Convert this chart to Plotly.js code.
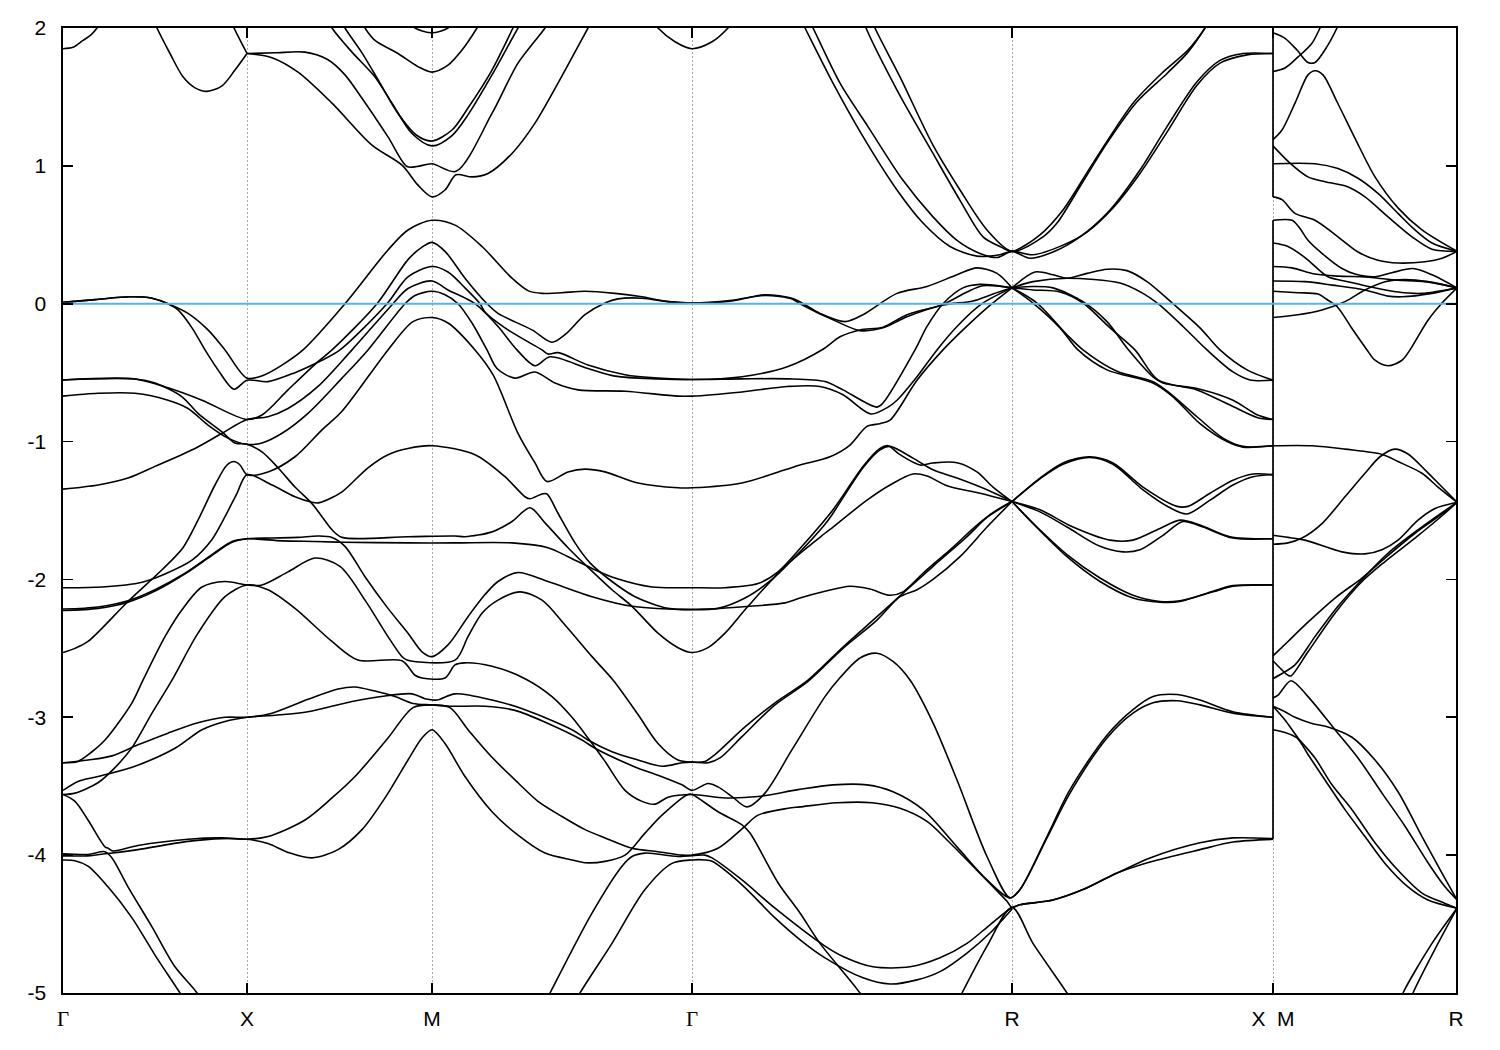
<!DOCTYPE html>
<html><head><meta charset="utf-8">
<script src="https://cdn.plot.ly/plotly-3.0.1.min.js"></script>
<style>html,body{margin:0;padding:0;background:#fff}</style></head>
<body><div id="chart" style="width:1500px;height:1050px"></div>
<script>
// k-path positions of the symmetry points and their labels
const pathTicks=[0,184,369,629,949,1210,1393];
const pathLabels=['Γ','X','M','Γ','R','X\u00A0\u00A0M','R'];
const energyTicks=[-5,-4,-3,-2,-1,0,1,2];
const energyLabels=['-5','-4','-3','-2','-1','0','1','2'];
const fermiK=[0,1393], fermiE=[0,0];
// jump of the path between X and M
const jumpK1=[1210,1210], jumpE1=[2.1,0.775];
const jumpK2=[1210,1210], jumpE2=[0.605,-3.885];

// bands: k = position along path, e = energy (eV)
const k1=[0,32,67,89,105,125,145,162,184,200,219,240,282,325,345,369,392,419,449,465,479,499,522,552,579,605,629,669,702,729,739,757,782,800,834,864,894,914,934,949];
const e1=[.01,.03,.05,.04,0,-.07,-.19,-.335,-.54,-.52,-.445,-.335,0,.39,.535,.605,.57,.415,.185,.095,.075,.08,.09,.075,.05,.015,.005,.02,.065,.04,.005,-.07,-.13,-.08,.075,.125,.21,.26,.22,.115];
const k2=[0,32,67,89,105,115,129,142,155,171,184,205,232,259,277,324,345,369,385,402,417,422,445,479,485,495,525,562,595,629,679,725,760,777,797,820,844,880,904,920,949];
const e2=[.01,.03,.05,.04,0,-.045,-.175,-.335,-.48,-.62,-.555,-.565,-.5,-.41,-.335,0,.195,.27,.23,.115,0,-.06,-.19,-.335,-.365,-.355,-.445,-.515,-.54,-.55,-.53,-.455,-.33,-.24,-.19,-.17,-.08,-.005,.085,.13,.115];
const k3=[0,72,105,139,184,199,225,255,269,314,345,359,369,382,402,424,435,469,489,502,522,542,555,579,605,629,669,702,729,737,774,797,820,844,880,910,930,949];
const e3=[-.553,-.546,-.61,-.70,-.84,-.807,-.625,-.42,-.335,0,.32,.41,.445,.38,.185,0,-.07,-.19,-.28,-.225,-.08,.005,.035,.04,.015,.005,.025,.06,.035,0,-.13,-.195,-.175,-.095,-.01,.02,.07,.115];
const k4=[0,35,65,92,132,159,184,205,225,255,289,330,345,369,385,412,435,454,472,487,525,552,595,629,679,725,762,780,814,820,852,864,880,900,917,949];
const e4=[-1.345,-1.315,-1.265,-1.18,-1.05,-.94,-.84,-.82,-.76,-.6,-.335,0,.11,.165,.10,0,-.165,-.335,-.45,-.385,-.47,-.525,-.545,-.55,-.545,-.545,-.565,-.625,-.75,-.72,-.335,-.165,0,.115,.14,.115];
const k5=[0,35,72,105,125,145,165,184,199,219,245,279,305,342,352,369,382,395,409,424,434,452,472,492,515,562,615,629,679,725,757,780,808,825,834,854,874,894,919,949];
const e5=[-.67,-.65,-.65,-.70,-.76,-.88,-.975,-1.02,-1.01,-.94,-.795,-.54,-.335,0,.06,.09,.065,0,-.14,-.335,-.47,-.54,-.495,-.575,-.625,-.635,-.67,-.67,-.64,-.6,-.6,-.66,-.8,-.75,-.7,-.53,-.335,-.165,0,.115];
const k6=[0,12,25,65,99,120,135,152,164,171,177,184,205,232,259,279,325,350,369,385,412,430,455,472,484,505,522,542,575,615,629,679,722,737,767,787,804,817,827,854,880,900,924,949];
const e6=[-2.53,-2.5,-2.45,-2.16,-1.93,-1.77,-1.57,-1.315,-1.17,-1.145,-1.17,-1.24,-1.22,-1.11,-.915,-.78,-.335,-.13,-.10,-.14,-.335,-.515,-.94,-1.155,-1.29,-1.22,-1.2,-1.22,-1.30,-1.335,-1.335,-1.30,-1.205,-1.17,-1.11,-1.025,-.89,-.87,-.845,-.555,-.335,-.19,-.03,.115];
const k7=[0,39,79,102,129,149,162,174,184,209,232,249,255,265,279,305,325,345,369,412,442,462,467,479,484,495,512,527,549,572,605,629,655,682,709,729,762,770,800,817,827,850,870,894,924,949];
const e7=[-2.06,-2.055,-2.02,-1.96,-1.86,-1.71,-1.545,-1.375,-1.24,-1.315,-1.4,-1.44,-1.445,-1.42,-1.365,-1.19,-1.095,-1.05,-1.03,-1.095,-1.255,-1.4,-1.415,-1.38,-1.38,-1.52,-1.735,-1.88,-2.015,-2.125,-2.21,-2.22,-2.21,-2.135,-2.0,-1.86,-1.60,-1.52,-1.19,-1.06,-1.035,-1.12,-1.205,-1.265,-1.35,-1.435];
const k8=[0,72,92,119,135,159,172,184,199,215,232,249,259,269,279,345,392,402,429,449,467,482,505,529,549,569,595,615,629,645,662,685,722,762,770,804,827,850,864,884,917,949];
const e8=[-.553,-.546,-.575,-.675,-.795,-.93,-1.01,-1.02,-1.075,-1.19,-1.33,-1.45,-1.545,-1.64,-1.695,-1.69,-1.685,-1.69,-1.655,-1.58,-1.48,-1.59,-1.77,-1.94,-2.075,-2.195,-2.39,-2.495,-2.53,-2.495,-2.39,-2.195,-1.905,-1.665,-1.62,-1.425,-1.315,-1.235,-1.25,-1.32,-1.375,-1.435];
const k9=[0,35,65,92,122,149,169,184,219,252,279,345,392,449,485,505,529,552,589,629,662,695,715,739,770,800,817,825,837,857,870,894,914,930,949];
const e9=[-2.215,-2.2,-2.155,-2.075,-1.955,-1.82,-1.725,-1.705,-1.72,-1.725,-1.73,-1.735,-1.735,-1.735,-1.77,-1.835,-1.92,-1.99,-2.055,-2.06,-2.06,-2.03,-1.945,-1.76,-1.495,-1.18,-1.05,-1.03,-1.095,-1.17,-1.155,-1.153,-1.22,-1.33,-1.435];
const k10=[0,35,65,92,122,149,169,184,209,235,255,269,282,302,325,345,359,369,385,405,422,435,455,485,529,569,605,645,687,722,737,760,787,807,827,840,860,887,920,949];
const e10=[-2.225,-2.21,-2.165,-2.085,-1.96,-1.825,-1.73,-1.705,-1.70,-1.695,-1.685,-1.695,-1.76,-1.98,-2.21,-2.39,-2.525,-2.56,-2.475,-2.27,-2.11,-2.015,-1.95,-2.015,-2.125,-2.195,-2.215,-2.215,-2.195,-2.17,-2.135,-2.09,-2.05,-2.07,-2.115,-2.09,-1.955,-1.785,-1.57,-1.435];
const k11=[0,15,29,42,69,80,102,119,139,162,184,199,225,252,277,302,325,339,344,392,405,419,435,457,479,502,529,550,575,595,615,629,642,652,682,712,745,780,814,840,870,904,927,949];
const e11=[-3.33,-3.32,-3.25,-3.165,-2.895,-2.73,-2.415,-2.22,-2.055,-2.015,-2.04,-2.04,-1.945,-1.845,-1.905,-2.15,-2.415,-2.56,-2.585,-2.585,-2.415,-2.245,-2.15,-2.09,-2.15,-2.33,-2.56,-2.73,-2.98,-3.19,-3.31,-3.325,-3.32,-3.27,-3.07,-2.895,-2.73,-2.49,-2.27,-2.10,-1.905,-1.69,-1.53,-1.435];
const k12=[0,12,35,50,69,89,109,135,162,184,205,232,269,295,339,352,359,382,392,402,429,462,489,509,525,542,562,579,592,605,629,662,695,735,770,804,830,860,894,924,947,957,984,1007,1044,1070,1090,1114,1137,1170,1210];
const e12=[-3.56,-3.55,-3.475,-3.38,-3.22,-2.97,-2.73,-2.39,-2.125,-2.04,-2.075,-2.21,-2.45,-2.585,-2.59,-2.695,-2.715,-2.715,-2.62,-2.605,-2.63,-2.72,-2.85,-3.0,-3.15,-3.32,-3.53,-3.61,-3.63,-3.58,-3.56,-3.585,-3.575,-3.525,-3.49,-3.49,-3.54,-3.67,-3.94,-4.18,-4.31,-4.25,-3.865,-3.525,-3.13,-2.945,-2.85,-2.835,-2.875,-2.96,-3.0];
const k13=[0,25,49,75,105,135,162,184,209,245,275,292,312,332,350,369,387,422,452,485,519,532,572,595,619,629,645,655,669,684,702,729,762,775,797,814,830,847,870,894,924,947,957,984,1007,1044,1070,1090,1114,1137,1170,1210];
const e13=[-3.33,-3.31,-3.28,-3.2,-3.115,-3.04,-3.0,-3.0,-2.97,-2.87,-2.795,-2.78,-2.81,-2.85,-2.90,-2.91,-2.92,-2.92,-2.95,-3.045,-3.165,-3.225,-3.36,-3.42,-3.49,-3.53,-3.48,-3.505,-3.575,-3.65,-3.55,-3.235,-2.85,-2.73,-2.57,-2.535,-2.595,-2.73,-3.04,-3.455,-4.01,-4.31,-4.25,-3.875,-3.55,-3.15,-2.97,-2.895,-2.88,-2.91,-2.97,-3.0];
const k14=[0,15,35,72,112,139,162,184,212,245,289,322,349,362,374,392,429,462,509,525,549,575,599,619,629,645,657,679,712,745,780,814,837,854,870,897,924,949];
const e14=[-3.53,-3.465,-3.43,-3.355,-3.225,-3.09,-3.03,-3.0,-2.985,-2.96,-2.885,-2.845,-2.83,-2.865,-2.875,-2.83,-2.875,-2.945,-3.09,-3.165,-3.25,-3.31,-3.355,-3.33,-3.325,-3.33,-3.295,-3.14,-2.91,-2.74,-2.5,-2.295,-2.125,-2.075,-2.0,-1.835,-1.62,-1.435];
const k15=[0,12,25,42,45,50,75,125,159,184,205,242,269,292,325,350,369,387,405,429,455,475,499,522,542,569,595,619,629,655,679,695,725,737,774,809,837,864,884,910,944,949,957,990,1020,1054,1087,1137,1170,1210];
const e15=[-3.56,-3.61,-3.745,-3.94,-3.95,-3.97,-3.93,-3.885,-3.875,-3.885,-3.865,-3.745,-3.585,-3.43,-3.15,-2.93,-2.91,-2.93,-3.09,-3.29,-3.475,-3.61,-3.72,-3.815,-3.875,-3.95,-3.975,-4.0,-4.0,-3.95,-3.81,-3.71,-3.66,-3.65,-3.62,-3.62,-3.66,-3.755,-3.89,-4.08,-4.335,-4.38,-4.36,-4.325,-4.25,-4.13,-4.02,-3.91,-3.875,-3.88];
const k16=[0,25,42,55,75,125,159,184,205,225,249,275,299,322,345,359,369,382,402,429,455,482,509,522,542,562,582,599,625,629,655,679,687,715,737,757,797,805];
const e16=[-4.005,-4.005,-3.99,-3.98,-3.96,-3.90,-3.88,-3.885,-3.915,-3.98,-4.02,-3.96,-3.815,-3.585,-3.31,-3.15,-3.09,-3.19,-3.43,-3.685,-3.855,-3.985,-4.035,-4.055,-4.045,-4.0,-3.84,-3.71,-3.56,-3.56,-3.685,-3.78,-3.84,-4.2,-4.42,-4.64,-5.0,-5.1];
const k17=[0,25,42,49,65,89,112,134,140];
const e17=[-3.99,-3.995,-3.975,-4.02,-4.23,-4.52,-4.81,-5.0,-5.09];
const k18=[0,12,25,45,69,92,117,123];
const e18=[-4.035,-4.04,-4.08,-4.23,-4.455,-4.725,-5.0,-5.07];
const k19=[480,487,529,559,569,582,615,642,649,679,712,762,780,810,847,877,904,927,949,957,990,1020,1054,1087,1137,1170,1210];
const e19=[-5.1,-5.0,-4.42,-4.08,-4.01,-3.985,-4.01,-4.0,-4.02,-4.18,-4.385,-4.66,-4.735,-4.81,-4.81,-4.745,-4.64,-4.505,-4.38,-4.36,-4.325,-4.25,-4.13,-4.05,-3.96,-3.905,-3.885];
const k20=[510,517,549,582,609,629,642,649,679,712,739,762,800,827,854,877,904,927,949];
const e20=[-5.1,-5,-4.64,-4.25,-4.06,-4.035,-4.035,-4.045,-4.215,-4.455,-4.625,-4.745,-4.89,-4.935,-4.905,-4.845,-4.71,-4.565,-4.39];
const k21=[892,899,924,949,970,1004,1012];
const e21=[-5.1,-5,-4.66,-4.38,-4.64,-5,-5.1];
// conduction bands near the top
const k22=[0,10,20,28,34,42];
const e22=[1.85,1.86,1.91,1.95,2.0,2.1];
const k23=[86,94,107,120,132,144,159,172,184];
const e23=[2.15,2.0,1.815,1.646,1.566,1.54,1.58,1.695,1.815];
const k24=[165,171,184];
const e24=[2.1,2.0,1.815];
const k25=[184,212,242,265,282,299,325,344,354,369,393,429,455,482,500];
const e25=[1.815,1.82,1.825,1.77,1.66,1.49,1.21,.995,.995,1.015,.96,1.38,1.745,2.0,2.2];
const k26=[184,209,235,269,309,339,355,369,382,393,409,425,449,472,495,525,540];
const e26=[1.815,1.785,1.68,1.455,1.15,1.005,.86,.775,.825,.935,.92,.945,1.09,1.31,1.6,2.0,2.2];
const k27=[262,269,289,312,329,349,369,389,405,429,455,465];
const e27=[2.1,2.0,1.825,1.645,1.455,1.235,1.145,1.22,1.37,1.66,2.0,2.12];
const k28=[275,282,299,317,335,354,369,389,405,429,450,458];
const e28=[2.1,2.0,1.82,1.6,1.38,1.22,1.18,1.26,1.42,1.695,2.0,2.12];
const k29=[295,302,312,335,355,369,385,399,414,422];
const e29=[2.1,2.0,1.91,1.815,1.72,1.68,1.73,1.84,2.0,2.1];
const k30=[345,352,369,385,392];
const e30=[2.05,2.0,1.965,2.0,2.05];
const k31=[588,595,612,629,649,665,672];
const e31=[2.07,2.0,1.90,1.85,1.90,2.0,2.07];
const k32=[735,742,770,799,834,860,887,914,937,949,967,990,1017,1047,1077,1104,1134,1157,1180,1210];
const e32=[2.1,2.0,1.6,1.225,.825,.585,.415,.345,.355,.38,.33,.375,.485,.68,.97,1.285,1.61,1.765,1.815,1.815];
const k33=[743,750,777,805,840,870,894,917,934,949,970,1000,1024,1050,1077,1104,1134,1157,1184,1210];
const e33=[2.1,2.0,1.6,1.285,.895,.63,.46,.365,.335,.38,.355,.425,.52,.695,.945,1.245,1.585,1.745,1.805,1.815];
const k34=[798,803,834,870,897,920,937,949,977,1000,1030,1070,1100,1125,1142,1150];
const e34=[2.1,2.0,1.55,1.09,.75,.485,.415,.38,.5,.68,1.02,1.455,1.68,1.84,2.0,2.1];
const k35=[807,812,837,870,897,924,949,980,994,1017,1044,1074,1104,1125,1142,1150];
const e35=[2.1,2.0,1.645,1.15,.825,.535,.38,.485,.585,.85,1.165,1.465,1.67,1.825,2.0,2.1];
// R to X valence bands
const k36=[949,972,990,1004,1024,1044,1064,1084,1110,1137,1157,1184,1210];
const e36=[.115,.23,.21,.185,.22,.25,.24,.16,0,-.175,-.335,-.48,-.555];
const k37=[949,970,1004,1057,1080,1095,1120,1144,1170,1187,1210];
const e37=[.115,.16,.185,.15,.075,0,-.165,-.335,-.495,-.553,-.555];
const k38=[949,970,990,1020,1044,1065,1090,1100,1137,1170,1194,1210];
const e38=[.115,.125,.115,.015,-.13,-.33,-.53,-.575,-.62,-.70,-.805,-.84];
const k39=[949,970,997,1020,1047,1072,1095,1134,1167,1194,1210];
const e39=[.115,.10,.085,.005,-.175,-.335,-.553,-.625,-.735,-.825,-.84];
const k40=[949,970,997,1015,1044,1090,1110,1137,1164,1180,1210];
const e40=[.115,.005,-.175,-.335,-.48,-.575,-.675,-.87,-1.0,-1.04,-1.03];
const k41=[949,974,1004,1020,1054,1090,1107,1134,1160,1180,1210];
const e41=[.115,.005,-.225,-.335,-.49,-.565,-.65,-.82,-.975,-1.035,-1.03];
const k42=[949,977,1000,1027,1050,1080,1114,1125,1147,1170,1190,1210];
const e42=[-1.435,-1.265,-1.155,-1.11,-1.155,-1.33,-1.47,-1.47,-1.375,-1.28,-1.235,-1.24];
const k43=[949,977,1000,1027,1050,1080,1107,1124,1147,1170,1190,1210];
const e43=[-1.435,-1.27,-1.165,-1.115,-1.165,-1.35,-1.48,-1.525,-1.425,-1.315,-1.255,-1.24];
const k44=[949,977,1010,1047,1070,1097,1117,1137,1167,1210];
const e44=[-1.435,-1.495,-1.62,-1.715,-1.715,-1.63,-1.57,-1.605,-1.69,-1.705];
const k45=[949,977,1004,1037,1060,1077,1100,1120,1140,1170,1210];
const e45=[-1.435,-1.51,-1.62,-1.76,-1.80,-1.785,-1.68,-1.58,-1.62,-1.70,-1.705];
const k46=[949,974,1004,1037,1070,1097,1117,1150,1170,1210];
const e46=[-1.435,-1.62,-1.82,-1.99,-2.115,-2.16,-2.155,-2.09,-2.05,-2.04];
const k47=[949,974,1004,1037,1070,1097,1117,1150,1170,1210];
const e47=[-1.435,-1.625,-1.835,-2.015,-2.135,-2.165,-2.16,-2.085,-2.045,-2.04];
// M to R panel
const k48=[1210,1222,1234,1245,1252,1264,1274,1280];
const e48=[1.965,1.925,1.84,1.75,1.75,1.865,2.0,2.1];
const k49=[1210,1222,1235,1249,1257,1263];
const e49=[1.685,1.71,1.79,1.89,2.0,2.1];
const k50=[1210,1219,1232,1245,1252,1260,1274,1292,1312,1335,1359,1394];
const e50=[1.19,1.26,1.455,1.66,1.69,1.66,1.465,1.2,.92,.695,.535,.38];
const k51=[1210,1227,1245,1262,1284,1302,1325,1349,1369,1394];
const e51=[1.145,1.02,.92,.885,.85,.775,.63,.485,.395,.38];
const k52=[1210,1252,1275,1295,1315,1335,1352,1369,1394];
const e52=[1.015,1.015,.98,.91,.80,.655,.535,.44,.38];
const k53=[1210,1219,1232,1252,1275,1295,1315,1335,1362,1379,1394];
const e53=[.775,.755,.655,.605,.485,.375,.315,.295,.305,.33,.38];
const k54=[1210,1229,1237,1245,1259,1279,1292,1312,1329,1350,1369,1394];
const e54=[.605,.605,.545,.46,.365,.255,.215,.195,.225,.255,.21,.115];
const k55=[1210,1225,1242,1265,1285,1309,1335,1359,1394];
const e55=[.44,.415,.335,.195,.16,.12,.085,.075,.115];
const k56=[1210,1229,1252,1275,1302,1315,1335,1362,1394];
const e56=[.27,.26,.215,.2,.195,.185,.17,.16,.115];
const k57=[1210,1242,1269,1302,1325,1339,1369,1394];
const e57=[.165,.16,.135,.10,.055,.05,.075,.115];
const k58=[1210,1235,1255,1265,1274,1289,1304,1312,1325,1339,1347,1365,1379,1394];
const e58=[.09,.08,.07,.025,-.02,-.18,-.335,-.41,-.45,-.41,-.335,-.12,.005,.115];
const k59=[1210,1235,1259,1282,1302,1322,1342,1365,1394];
const e59=[-.10,-.08,-.045,.015,.10,.16,.175,.16,.115];
const k60=[1210,1249,1282,1320,1335,1359,1375,1394];
const e60=[-1.03,-1.03,-1.055,-1.095,-1.145,-1.23,-1.33,-1.44];
const k61=[1210,1225,1239,1259,1282,1302,1317,1332,1345,1362,1379,1394];
const e61=[-1.745,-1.735,-1.70,-1.595,-1.40,-1.23,-1.11,-1.055,-1.09,-1.205,-1.33,-1.44];
const k62=[1210,1225,1242,1279,1302,1319,1335,1355,1372,1394];
const e62=[-1.68,-1.695,-1.715,-1.80,-1.815,-1.785,-1.715,-1.57,-1.485,-1.44];
const k63=[1210,1225,1245,1272,1299,1322,1352,1382,1394];
const e63=[-2.555,-2.45,-2.31,-2.135,-1.99,-1.845,-1.665,-1.51,-1.44];
const k64=[1210,1225,1228,1245,1272,1299,1322,1352,1382,1394];
const e64=[-2.59,-2.695,-2.70,-2.525,-2.245,-2.015,-1.87,-1.70,-1.52,-1.44];
const k65=[1210,1222,1232,1252,1275,1299,1325,1355,1394];
const e65=[-2.72,-2.67,-2.62,-2.415,-2.195,-2.0,-1.81,-1.64,-1.44];
const k66=[1210,1215,1228,1245,1272,1295,1319,1342,1365,1382,1394];
const e66=[-2.86,-2.84,-2.735,-2.85,-3.09,-3.295,-3.55,-3.79,-4.055,-4.23,-4.325];
const k67=[1210,1222,1232,1249,1265,1289,1312,1335,1359,1379,1394];
const e67=[-2.92,-2.96,-3.0,-3.045,-3.07,-3.145,-3.31,-3.54,-3.865,-4.13,-4.325];
const k68=[1210,1222,1235,1252,1269,1289,1312,1335,1359,1382,1394];
const e68=[-2.92,-3.02,-3.15,-3.295,-3.49,-3.67,-3.91,-4.11,-4.275,-4.35,-4.385];
const k69=[1210,1222,1234,1245,1262,1282,1302,1322,1345,1365,1394];
const e69=[-3.09,-3.11,-3.15,-3.27,-3.455,-3.67,-3.865,-4.06,-4.23,-4.325,-4.385];
const k70=[1335,1340,1369,1394];
const e70=[-5.1,-5,-4.64,-4.385];
const k71=[1345,1350,1375,1394];
const e71=[-5.1,-5,-4.64,-4.385];

const bands=[[k1,e1],[k2,e2],[k3,e3],[k4,e4],[k5,e5],[k6,e6],[k7,e7],[k8,e8],[k9,e9],[k10,e10],
[k11,e11],[k12,e12],[k13,e13],[k14,e14],[k15,e15],[k16,e16],[k17,e17],[k18,e18],[k19,e19],[k20,e20],
[k21,e21],[k22,e22],[k23,e23],[k24,e24],[k25,e25],[k26,e26],[k27,e27],[k28,e28],[k29,e29],[k30,e30],
[k31,e31],[k32,e32],[k33,e33],[k34,e34],[k35,e35],[k36,e36],[k37,e37],[k38,e38],[k39,e39],[k40,e40],
[k41,e41],[k42,e42],[k43,e43],[k44,e44],[k45,e45],[k46,e46],[k47,e47],[k48,e48],[k49,e49],[k50,e50],
[k51,e51],[k52,e52],[k53,e53],[k54,e54],[k55,e55],[k56,e56],[k57,e57],[k58,e58],[k59,e59],[k60,e60],
[k61,e61],[k62,e62],[k63,e63],[k64,e64],[k65,e65],[k66,e66],[k67,e67],[k68,e68],[k69,e69],[k70,e70],[k71,e71]];

const traces=bands.map(([k,e])=>({x:k,y:e,type:'scatter',mode:'lines',
  line:{color:'#000',width:1.6,shape:'spline',smoothing:0.85},hoverinfo:'skip',showlegend:false}));
traces.push({x:jumpK1,y:jumpE1,type:'scatter',mode:'lines',line:{color:'#000',width:1.7},hoverinfo:'skip',showlegend:false});
traces.push({x:jumpK2,y:jumpE2,type:'scatter',mode:'lines',line:{color:'#000',width:1.7},hoverinfo:'skip',showlegend:false});
traces.push({x:fermiK,y:fermiE,type:'scatter',mode:'lines',line:{color:'#56b4e9',width:2},hoverinfo:'skip',showlegend:false});

const gammaFont="<span style=\"font-family:'Liberation Serif'\">Γ</span>";
const layout={width:1500,height:1050,autosize:false,showlegend:false,
  margin:{l:63,r:44,t:28,b:57,pad:0},paper_bgcolor:'#fff',plot_bgcolor:'#fff',
  font:{family:'"Liberation Sans",Arial,sans-serif',size:21,color:'#000'},
  xaxis:{range:[0,1393],tickmode:'array',tickvals:pathTicks,
    ticktext:pathLabels.map(t=>t==='Γ'?gammaFont:t),
    ticks:'inside',ticklen:10,tickwidth:1.7,tickcolor:'#000',mirror:'allticks',
    showline:true,linecolor:'#000',linewidth:1.7,showgrid:true,gridcolor:'#aaa',gridwidth:1,griddash:'2px,2px',
    zeroline:false,tickangle:0,tickfont:{size:21},ticklabelstandoff:6},
  yaxis:{range:[-5,2],tickmode:'array',tickvals:energyTicks,ticktext:energyLabels,
    ticks:'inside',ticklen:10,tickwidth:1.7,tickcolor:'#000',mirror:'allticks',
    showline:true,linecolor:'#000',linewidth:1.7,showgrid:false,zeroline:false,tickfont:{size:21},ticklabelstandoff:11},
  hovermode:false};
Plotly.newPlot('chart',traces,layout,{staticPlot:true,displayModeBar:false});
</script></body></html>
